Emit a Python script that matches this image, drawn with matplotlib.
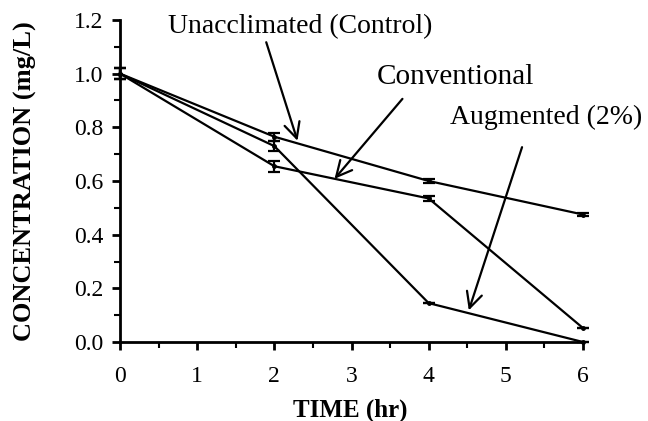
import matplotlib.pyplot as plt
from matplotlib.ticker import MultipleLocator

plt.rcParams['font.family'] = ['Liberation Serif', 'DejaVu Serif']

time = [0, 2, 4, 6]
control = [1.0, 0.765, 0.600, 0.475]
control_err = [0.02, 0.015, 0.008, 0.006]
conventional = [1.0, 0.655, 0.535, 0.052]
conventional_err = [0.02, 0.02, 0.01, 0.0]
augmented = [1.0, 0.730, 0.145, 0.0]
augmented_err = [0.02, 0.02, 0.0, 0.0]

fig = plt.figure(figsize=(6.48, 4.21), dpi=100)
ax = fig.add_axes([0.1852, 0.1876, 0.7145, 0.765])

for y, e in [(control, control_err), (conventional, conventional_err), (augmented, augmented_err)]:
    ax.errorbar(time, y, yerr=e, color='black', lw=1.6, capsize=4.5, capthick=1.6,
                elinewidth=1.6, marker='o', ms=2.5, clip_on=False)

ax.set_xlim(0, 6)
ax.set_ylim(0, 1.2)
ax.xaxis.set_major_locator(MultipleLocator(1))
ax.xaxis.set_minor_locator(MultipleLocator(0.5))
ax.yaxis.set_major_locator(MultipleLocator(0.2))
ax.yaxis.set_minor_locator(MultipleLocator(0.1))
ax.yaxis.set_major_formatter(plt.FormatStrFormatter('%.1f'))
ax.spines['top'].set_visible(False)
ax.spines['right'].set_visible(False)
for s in ['left', 'bottom']:
    ax.spines[s].set_linewidth(2)
ax.tick_params(which='major', length=6, width=2, labelsize=17)
ax.tick_params(which='minor', length=4, width=1.5)
ax.tick_params(axis='x', pad=11)
ax.tick_params(axis='y', pad=6)

ax.set_xlabel('TIME (hr)', fontsize=18, fontweight='bold')
ax.set_ylabel('CONCENTRATION (mg/L)', fontsize=19, fontweight='bold')
ax.xaxis.set_label_coords(0.497, -0.175)
ax.yaxis.set_label_coords(-0.18, 0.5)

arrow = dict(arrowstyle='->', lw=1.6, color='black', mutation_scale=28, shrinkA=0, shrinkB=0)
ax.annotate('', xy=(2.30, 0.75), xytext=(1.895, 1.117), arrowprops=arrow, annotation_clip=False)
ax.text(2.33, 1.177, 'Unacclimated (Control)', fontsize=20, ha='center', va='center')
ax.annotate('', xy=(2.78, 0.608), xytext=(3.66, 0.906), arrowprops=arrow, annotation_clip=False)
ax.text(4.35, 0.986, 'Conventional', fontsize=21, ha='center', va='center')
ax.annotate('', xy=(4.52, 0.118), xytext=(5.21, 0.726), arrowprops=arrow, annotation_clip=False)
ax.text(5.52, 0.837, 'Augmented (2%)', fontsize=20, ha='center', va='center', clip_on=False)

fig.savefig('out.png', dpi=100)
